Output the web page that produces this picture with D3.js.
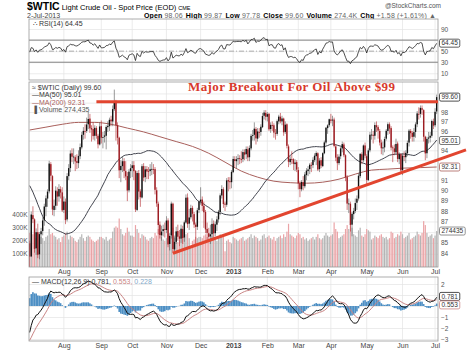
<!doctype html>
<html>
  <head>
    <meta charset="utf-8">
    <script src="https://cdn.jsdelivr.net/npm/d3@7/dist/d3.min.js"></script>
    <style>
      body { margin: 0; background: #fff; }
      text { font-family: "Liberation Sans", Arial, sans-serif; }
    </style>
  </head>
  <body>
    <div id="chart"></div>
    <script>
      // daily candles, one array per month: [open, high, low, close, volume in K]
      var jul12 = [[84.96,85.20,82.57,83.75,260],[83.76,87.95,83.70,87.66,280],[87.60,88.45,86.85,87.22,250],[87.20,87.30,84.10,84.45,270],[84.50,86.35,83.90,85.99,220],[86.00,86.80,83.60,83.91,260],[83.95,86.00,83.50,85.81,240],[85.80,86.40,84.90,86.08,230],[86.10,87.40,85.70,87.10,220],[87.10,88.70,86.60,88.43,200],[88.40,89.50,87.50,89.22,230],[89.20,90.10,88.40,89.87,240],[89.90,92.94,89.70,92.66,290],[92.60,92.80,90.90,91.44,250],[91.40,91.50,87.60,88.14,260],[88.10,89.10,87.50,88.50,240],[88.50,90.40,88.10,89.97,230],[89.90,90.30,88.50,89.39,210],[89.40,90.60,88.90,90.13,220],[90.10,90.40,89.20,89.78,190],[89.80,90.30,87.90,88.06,230]];
      var aug12 = [[88.10,89.40,87.80,88.91,240],[88.90,89.20,86.75,87.13,260],[87.20,91.70,87.00,91.40,270],[91.40,92.60,91.00,92.20,210],[92.20,94.00,91.80,93.67,240],[93.70,94.20,92.80,93.35,230],[93.30,94.20,92.60,93.36,220],[93.30,93.50,91.90,92.87,200],[92.90,93.60,92.10,92.73,190],[92.70,94.00,92.20,93.43,210],[93.40,94.70,93.10,94.33,230],[94.30,95.90,94.10,95.60,250],[95.60,96.40,95.10,96.01,220],[96.00,96.70,95.20,95.97,200],[96.00,97.40,95.80,96.68,230],[96.70,98.00,96.20,97.26,240],[97.30,97.80,95.80,96.27,230],[96.30,96.60,94.90,96.15,210],[96.20,96.90,95.10,95.47,200],[95.50,96.60,95.00,96.33,190],[96.30,96.50,95.20,95.49,200],[95.50,95.70,94.20,94.62,210],[94.60,96.90,94.50,96.47,230]];
      var sep12 = [[96.50,97.10,94.70,95.30,230],[95.30,95.90,94.20,95.36,220],[95.40,96.00,94.80,95.53,210],[95.50,96.60,94.10,96.42,230],[96.40,97.00,95.90,96.54,200],[96.50,97.40,96.00,97.17,210],[97.20,97.60,96.50,97.01,220],[97.00,98.70,96.50,98.31,270],[98.30,100.42,98.10,99.00,300],[99.00,99.30,95.00,96.62,310],[96.60,96.90,94.60,95.29,300],[95.30,95.40,91.20,91.98,370],[92.00,93.00,90.80,92.42,290],[92.40,93.40,91.80,92.89,250],[92.90,93.20,91.20,91.93,240],[91.90,92.90,91.00,91.37,260],[91.40,91.80,88.95,89.98,300],[90.00,92.10,89.80,91.85,270],[91.90,92.60,91.20,92.19,240]];
      var oct12 = [[92.20,92.90,91.30,92.48,240],[92.50,92.90,91.00,91.89,230],[91.90,92.00,87.90,88.14,320],[88.10,91.90,88.00,91.71,290],[91.70,92.00,89.10,89.88,260],[89.90,90.10,88.40,89.33,220],[89.30,92.60,89.20,92.39,250],[92.40,92.70,90.90,91.25,240],[91.30,92.40,90.80,92.07,230],[92.10,92.40,91.10,91.86,210],[91.90,92.30,91.10,91.85,200],[91.90,92.60,91.40,92.09,220],[92.10,92.80,91.50,92.12,230],[92.10,92.60,91.60,92.10,220],[92.10,92.30,89.60,90.05,260],[90.00,90.30,88.40,88.73,240],[88.70,88.90,85.80,86.67,290],[86.70,87.00,85.40,85.73,260],[85.70,86.60,85.20,86.05,230],[86.10,86.70,85.60,86.28,210],[86.30,86.90,85.50,86.24,200]];
      var nov12 = [[86.20,87.50,85.90,87.09,220],[87.10,87.30,84.60,84.86,250],[84.90,85.90,84.30,85.65,230],[85.70,88.90,85.40,88.71,270],[88.70,88.80,84.05,84.44,300],[84.40,85.50,84.20,85.09,240],[85.10,86.50,84.90,86.07,220],[86.10,86.70,85.20,85.57,190],[85.60,86.20,84.70,85.38,210],[85.40,86.70,85.00,86.32,220],[86.30,86.60,84.90,85.45,230],[85.50,87.10,85.10,86.92,240],[86.90,89.60,86.80,89.28,250],[89.30,89.70,86.40,86.75,260],[86.80,88.20,86.20,87.38,220],[87.40,88.60,87.20,88.28,150],[88.30,88.50,87.00,87.74,200],[87.70,87.90,86.40,86.71,210],[86.70,86.90,84.90,86.49,230],[86.50,88.30,86.20,88.07,220],[88.10,89.00,87.80,88.91,230]];
      var dec12 = [[88.90,90.30,88.60,89.09,230],[89.10,89.40,88.00,88.49,220],[88.50,88.90,86.40,87.88,240],[87.90,88.10,85.90,86.26,250],[86.30,86.90,85.20,85.93,230],[85.90,86.40,85.10,85.56,210],[85.60,86.70,84.90,85.80,220],[85.80,87.30,85.40,86.77,240],[86.80,87.10,85.50,85.89,230],[85.90,87.00,85.60,86.73,210],[86.70,87.50,86.10,87.20,200],[87.20,88.10,86.90,87.93,220],[87.90,89.70,87.60,89.51,250],[89.50,90.50,89.20,90.13,230],[90.10,90.30,88.30,88.66,240],[88.70,88.90,88.00,88.61,120],[88.60,91.20,88.40,90.98,200],[91.00,91.30,89.90,90.87,210],[90.90,91.30,90.10,90.80,190],[90.80,92.00,90.20,91.82,180]];
      var jan13 = [[91.80,93.40,91.70,93.12,230],[93.10,93.40,92.30,92.92,220],[92.90,93.40,92.20,93.09,210],[93.10,93.60,92.50,93.19,200],[93.20,93.50,92.60,93.15,210],[93.10,93.90,92.70,93.10,220],[93.10,94.10,92.80,93.82,230],[93.80,94.10,93.00,93.56,200],[93.60,94.40,93.10,94.14,210],[94.10,94.40,92.90,93.28,220],[93.30,94.50,92.90,94.24,230],[94.20,95.70,94.00,95.49,250],[95.50,96.10,95.00,95.56,220],[95.60,96.90,95.00,96.24,240],[96.20,96.40,94.60,95.23,230],[95.20,96.30,94.90,95.95,220],[95.90,96.30,95.30,95.88,200],[95.90,96.70,95.50,96.44,210],[96.40,97.90,96.30,97.57,240],[97.60,98.20,97.20,97.94,250],[97.90,98.20,97.10,97.49,220]];
      var feb13 = [[97.50,98.00,97.00,97.77,230],[97.80,97.90,96.00,96.17,240],[96.20,96.90,95.80,96.64,220],[96.60,97.00,96.00,96.62,210],[96.60,96.80,95.30,95.83,230],[95.80,96.20,95.10,95.72,200],[95.70,97.20,95.50,97.03,220],[97.00,97.70,96.70,97.51,230],[97.50,97.90,96.80,97.01,240],[97.00,97.60,96.60,97.31,220],[97.30,97.40,95.50,95.86,250],[95.90,97.00,95.70,96.66,230],[96.70,96.80,94.20,94.46,270],[94.40,94.60,92.30,92.84,330],[92.80,93.40,92.50,93.13,250],[93.10,93.90,92.60,93.11,240],[93.10,93.20,92.00,92.63,230],[92.60,93.10,91.90,92.76,220],[92.80,93.00,91.80,92.05,240]];
      var mar13 = [[92.00,92.30,90.10,90.68,260],[90.70,90.90,89.33,90.12,250],[90.10,91.00,89.90,90.82,220],[90.80,91.40,90.00,90.43,230],[90.40,91.80,90.20,91.56,210],[91.50,92.20,91.00,91.95,220],[91.90,92.40,91.40,92.06,200],[92.10,92.70,91.60,92.54,210],[92.50,92.80,91.80,92.52,220],[92.50,93.30,92.20,93.03,230],[93.00,93.70,92.80,93.45,210],[93.40,93.90,92.50,93.73,230],[93.70,93.80,91.90,92.06,250],[92.10,93.20,91.80,92.96,220],[93.00,93.30,92.20,92.45,210],[92.40,93.80,92.30,93.71,220],[93.70,95.00,93.60,94.81,240],[94.80,96.40,94.60,96.34,260],[96.30,96.70,95.70,96.58,240],[96.60,97.30,96.40,97.23,230]];
      var apr13 = [[97.20,97.80,96.80,97.07,240],[97.10,97.60,96.50,97.19,250],[97.20,97.40,94.30,94.45,340],[94.40,94.60,92.90,93.26,290],[93.30,93.60,92.00,92.70,270],[92.70,93.60,92.50,93.36,220],[93.40,94.40,93.10,94.20,230],[94.20,94.90,93.80,94.64,240],[94.60,94.80,93.30,93.50,250],[93.50,93.60,90.90,91.29,290],[91.30,91.50,88.10,88.71,320],[88.70,89.20,87.80,88.72,290],[88.70,88.90,86.06,86.68,330],[86.70,87.90,85.61,87.73,300],[87.70,88.30,87.20,88.01,250],[88.00,89.20,87.80,88.76,240],[88.80,89.50,88.10,89.18,230],[89.20,91.70,89.00,91.44,280],[91.40,93.70,91.20,93.64,300],[93.60,93.80,92.60,93.00,240],[93.00,94.60,92.80,94.50,230],[94.50,94.80,93.20,93.46,250]];
      var may13 = [[93.40,93.60,90.60,91.03,290],[91.00,94.20,90.90,93.99,280],[94.00,95.90,93.80,95.61,270],[95.60,96.20,95.10,95.62,210],[95.60,96.00,94.70,95.50,220],[95.50,96.90,95.10,96.62,240],[96.60,97.00,95.90,96.39,230],[96.40,96.60,95.20,96.04,220],[96.00,96.20,94.50,94.80,240],[94.80,95.10,93.60,94.21,250],[94.20,94.90,93.50,94.30,230],[94.30,95.40,93.80,95.16,220],[95.20,96.20,95.00,96.02,230],[96.00,96.90,95.60,96.71,210],[96.70,96.90,95.70,96.25,220],[96.30,96.50,94.00,94.28,270],[94.30,94.50,92.80,94.25,260],[94.20,94.60,93.50,93.84,220],[93.80,95.20,93.60,94.65,230],[94.70,94.90,92.80,93.13,250],[93.10,93.80,92.60,93.61,240],[93.60,93.70,91.70,91.97,270]];
      var jun13 = [[92.00,93.70,91.50,93.45,250],[93.40,93.90,92.90,93.31,220],[93.30,94.00,92.70,93.74,230],[93.70,95.00,93.40,94.76,240],[94.80,96.20,94.40,96.03,260],[96.00,96.20,95.20,95.77,210],[95.80,96.00,94.90,95.38,220],[95.40,96.30,94.90,95.88,230],[95.90,96.90,95.30,96.69,240],[96.70,98.10,96.40,97.85,270],[97.80,98.50,97.20,97.77,250],[97.80,98.70,97.40,98.44,240],[98.40,98.70,97.70,98.24,260],[98.20,98.30,94.90,95.40,350],[95.40,95.50,93.00,93.69,320],[93.70,95.40,93.20,95.18,260],[95.20,95.90,94.70,95.32,230],[95.30,95.90,94.80,95.50,240],[95.50,97.20,95.30,97.05,250],[97.00,97.30,96.20,96.56,220]];
      var jul13 = [[96.60,98.40,96.40,98.02,240],[98.06,99.87,97.78,99.60,274.435]];

      // closes before the window (Apr-Jun 2012), only used to warm up the indicators
      var warmupCloses = [105.23,104.01,101.47,103.31,102.46,101.02,102.70,103.64,102.83,102.93,104.20,102.67,102.27,103.05,103.11,103.55,104.12,104.55,104.93,104.87,
        106.16,105.22,102.54,98.49,97.94,97.01,96.81,97.08,96.13,94.78,93.98,92.81,92.56,91.48,92.57,91.66,89.90,90.66,90.86,90.76,87.82,86.53,
        83.23,83.98,84.29,85.02,84.82,84.10,82.70,83.32,82.62,83.91,84.03,83.27,84.03,81.80,78.20,79.76,79.21,79.36,80.21,77.69,84.96];

      // 200-day average every 10 sessions
      var ma200Pts = [96.1,96.4,96.7,96.9,96.9,96.7,96.3,95.9,95.4,94.9,94.4,93.7,92.8,91.9,91.3,90.9,90.75,90.7,90.8,91.1,91.6,92.0,92.1,92.2,92.25,92.31];

      // month labels and the session index where each month starts
      var monthNames = ["Aug","Sep","Oct","Nov","Dec","2013","Feb","Mar","Apr","May","Jun","Jul"];
      var monthStart = [21,44,63,84,105,125,146,165,185,207,229,249];

      var priceTicks = [84,85,86,87,88,89,90,91,92,93,94,95,96,97,98,99,100];
      var volTicks = [100,200,300,400];
      var rsiTicks = [10,30,50,70,90];
      var macdTicks = [-3,-2,-1,0,1,2];

      // annotations: breakout level and the rising trend line (session index, price)
      var breakout = {from: 41, level: 99.1};
      var trendPts = [[88, 84.05], [268, 94.05]];

      // values shown in legends
      var last = {close: 99.60, ma50: 95.01, ma200: 92.31, vol: 274.435, rsi: 64.45, macd: 0.781, signal: 0.553, hist: 0.228};

      var days = [].concat(jul12, aug12, sep12, oct12, nov12, dec12, jan13, feb13, mar13, apr13, may13, jun13, jul13)
        .map(function(r, i) { return {i: i, o: r[0], h: r[1], l: r[2], c: r[3], v: r[4]}; });
      days.forEach(function(d, i) { d.up = i == 0 ? d.c >= warmupCloses[warmupCloses.length - 1] : d.c >= days[i - 1].c; });

      // indicators
      var all = warmupCloses.concat(days.map(function(d) { return d.c; }));
      var off = warmupCloses.length;
      function ema(arr, n) {
        var k = 2 / (n + 1), out = [], p = arr[0];
        arr.forEach(function(v, i) { p = i == 0 ? v : v * k + p * (1 - k); out.push(p); });
        return out;
      }
      var e12 = ema(all, 12), e26 = ema(all, 26);
      var macdAll = all.map(function(v, i) { return e12[i] - e26[i]; });
      var sigAll = ema(macdAll, 9);
      var rsiAll = [], ag = 0, al = 0;
      for (var j = 1; j < all.length; j++) {
        var ch = all[j] - all[j - 1], g = Math.max(ch, 0), lo = Math.max(-ch, 0);
        if (j <= 14) { ag += g / 14; al += lo / 14; }
        else { ag = (ag * 13 + g) / 14; al = (al * 13 + lo) / 14; }
        rsiAll[j] = 100 - 100 / (1 + ag / al);
      }
      days.forEach(function(d, i) {
        d.ma50 = d3.mean(all.slice(i + off - 49, i + off + 1));
        d.macd = macdAll[i + off];
        d.sig = sigAll[i + off];
        d.rsi = rsiAll[i + off];
      });

      var W = 467, H = 353, L = 29, R = 438;
      var rsiTop = 19, rsiBot = 80, mTop = 82, mBot = 267, dTop = 277, dBot = 341;

      var svg = d3.select("#chart").append("svg").attr("width", W).attr("height", H);

      var x = d3.scaleLinear().domain([-0.4, 250.8]).range([L, R]);
      var y = d3.scaleLog().domain([82.8, 101.25]).range([mBot, mTop]);
      var yVol = d3.scaleLinear().domain([0, 1412]).range([mBot, mTop]);
      var yRsi = d3.scaleLinear().domain([0, 100]).range([78.8, 23.5]);
      var yMacd = d3.scaleLinear().domain([-3, 2]).range([339, 284]);

      function clip(id, top, bot) {
        svg.append("clipPath").attr("id", id).append("rect")
          .attr("x", L).attr("y", top).attr("width", R - L).attr("height", bot - top);
      }
      clip("cr", rsiTop, rsiBot); clip("cm", mTop, mBot); clip("cd", dTop, dBot);

      // grid + right axis; tick labels sitting under a value box are left out
      function panelBase(top, bot, yScale, ticks, boxes) {
        svg.append("rect").attr("x", L).attr("y", top).attr("width", R - L).attr("height", bot - top).attr("fill", "#fff");
        svg.append("g").selectAll("line").data(monthStart).enter().append("line")
          .attr("x1", function(d) { return x(d); }).attr("x2", function(d) { return x(d); })
          .attr("y1", top).attr("y2", bot).attr("stroke", "#e4e4e4").attr("stroke-width", 0.7);
        var ax = svg.append("g").attr("transform", "translate(" + R + ",0)")
          .call(d3.axisRight(yScale).tickValues(ticks).tickSize(-(R - L)).tickPadding(4).tickFormat(d3.format("d")));
        ax.select(".domain").remove();
        ax.selectAll(".tick line").attr("stroke", "#e4e4e4").attr("stroke-width", 0.7);
        ax.selectAll(".tick text").attr("fill", "#555").style("font-size", "6.5px").attr("x", 3)
          .style("display", function(d) {
            var yy = yScale(d);
            return boxes.some(function(b) { return Math.abs(b - yy) < 7; }) ? "none" : null;
          });
        return ax;
      }
      function border(top, bot) {
        svg.append("rect").attr("x", L).attr("y", top).attr("width", R - L).attr("height", bot - top)
          .attr("fill", "none").attr("stroke", "#9a9a9a").attr("stroke-width", 0.8);
      }
      function valueBox(yy, label, color) {
        var g = svg.append("g").attr("transform", "translate(" + (R + 1.5) + "," + yy + ")");
        var t = g.append("text").attr("x", 2).attr("dy", "0.35em").style("font-size", "6.5px").attr("fill", "#333").text(label);
        var w = t.node().getComputedTextLength() + 4;
        g.insert("rect", "text").attr("x", 0).attr("y", -4).attr("width", w).attr("height", 8).attr("rx", 1.5)
          .attr("fill", "#fff").attr("stroke", color).attr("stroke-width", 0.8);
      }

      // header
      var head = svg.append("text").attr("x", 27).attr("y", 9.5);
      head.append("tspan").style("font-weight", "bold").style("font-size", "10.5px").text("$WTIC");
      head.append("tspan").style("font-size", "7.5px").attr("dx", 2).text("Light Crude Oil - Spot Price (EOD)");
      head.append("tspan").style("font-size", "5.5px").attr("dx", 2).text("CME");
      svg.append("text").attr("x", 27).attr("y", 17.5).style("font-size", "7px").attr("fill", "#444").text("2-Jul-2013");
      svg.append("text").attr("x", 441).attr("y", 8).attr("text-anchor", "end").style("font-size", "6.5px").attr("fill", "#555").text("@StockCharts.com");
      var info = svg.append("text").attr("x", 144).attr("y", 17.5).style("font-size", "7px").attr("textLength", 292);
      [["Open", "98.06"], ["High", "99.87"], ["Low", "97.78"], ["Close", "99.60"], ["Volume", "274.4K"], ["Chg", "+1.58 (+1.61%) \u25B2"]].forEach(function(p, k) {
        info.append("tspan").style("font-weight", "bold").attr("dx", k ? 3 : 0).text(p[0]);
        info.append("tspan").attr("fill", "#666").attr("dx", 2).text(p[1]);
      });

      // RSI panel
      panelBase(rsiTop, rsiBot, yRsi, rsiTicks, [yRsi(last.rsi)]);
      [70, 30].forEach(function(v) {
        svg.append("line").attr("x1", L).attr("x2", R).attr("y1", yRsi(v)).attr("y2", yRsi(v)).attr("stroke", "#666").attr("stroke-width", 0.8);
      });
      svg.append("line").attr("x1", L).attr("x2", R).attr("y1", yRsi(50)).attr("y2", yRsi(50))
        .attr("stroke", "#999").attr("stroke-width", 0.8).attr("stroke-dasharray", "5,2,1,2");
      svg.append("path").datum(days).attr("clip-path", "url(#cr)").attr("fill", "none").attr("stroke", "#222").attr("stroke-width", 0.8)
        .attr("d", d3.line().x(function(d) { return x(d.i); }).y(function(d) { return yRsi(d.rsi); }));
      border(rsiTop, rsiBot);
      svg.append("text").attr("x", 33).attr("y", 26).style("font-size", "7px").attr("fill", "#333").text("\u2234 RSI(14) " + last.rsi.toFixed(2));
      valueBox(yRsi(last.rsi), last.rsi.toFixed(2), "#333");

      // price panel
      panelBase(mTop, mBot, y, priceTicks, [y(last.close), y(last.ma50), y(last.ma200), yVol(last.vol)]);
      var gm = svg.append("g").attr("clip-path", "url(#cm)");
      gm.selectAll("rect.vol").data(days).enter().append("rect").attr("class", "vol")
        .attr("x", function(d) { return x(d.i) - 0.6; }).attr("width", 1.2)
        .attr("y", function(d) { return yVol(d.v); }).attr("height", function(d) { return mBot - yVol(d.v); })
        .attr("fill", function(d) { return d.up ? "#b5b5b5" : "#eaa3a6"; });
      gm.append("path").datum(ma200Pts).attr("fill", "none").attr("stroke", "#a9605c").attr("stroke-width", 1)
        .attr("d", d3.line().curve(d3.curveMonotoneX).x(function(d, k) { return x(k * 10); }).y(function(d) { return y(d); }));
      gm.append("path").datum(days).attr("fill", "none").attr("stroke", "#2c2f3a").attr("stroke-width", 0.9)
        .attr("d", d3.line().x(function(d) { return x(d.i); }).y(function(d) { return y(d.ma50); }));
      gm.selectAll("line.wick").data(days).enter().append("line").attr("class", "wick")
        .attr("x1", function(d) { return x(d.i); }).attr("x2", function(d) { return x(d.i); })
        .attr("y1", function(d) { return y(d.h); }).attr("y2", function(d) { return y(d.l); })
        .attr("stroke", function(d) { return d.up ? "#555" : "#b3262b"; }).attr("stroke-width", 0.8).attr("opacity", 0.75);
      gm.selectAll("rect.body").data(days).enter().append("rect").attr("class", "body")
        .attr("x", function(d) { return x(d.i) - 0.7; }).attr("width", 1.4)
        .attr("y", function(d) { return y(Math.max(d.o, d.c)); })
        .attr("height", function(d) { return Math.max(0.8, Math.abs(y(d.o) - y(d.c))); })
        .attr("fill", function(d) { return d.up ? "#111" : "#9c1c22"; });
      border(mTop, mBot);

      var va = svg.append("g").attr("transform", "translate(" + L + ",0)")
        .call(d3.axisLeft(yVol).tickValues(volTicks).tickSize(0).tickPadding(1.5).tickFormat(function(d) { return d + "K"; }));
      va.select(".domain").remove();
      va.selectAll("text").attr("fill", "#555").style("font-size", "6.5px");

      var leg = [["\u2248 $WTIC (Daily) " + last.close.toFixed(2), "#333"], ["\u2014MA(50) " + last.ma50.toFixed(2), "#333"],
                 ["\u2014MA(200) " + last.ma200.toFixed(2), "#a9605c"], ["\u2590 Volume " + d3.format(",")(Math.round(last.vol * 1000)), "#555"]];
      svg.append("g").selectAll("text").data(leg).enter().append("text")
        .attr("x", 32).attr("y", function(d, k) { return 89.5 + k * 7.5; })
        .style("font-size", "7px").attr("fill", function(d) { return d[1]; }).text(function(d) { return d[0]; });

      valueBox(y(last.close), last.close.toFixed(2), "#222");
      valueBox(y(last.ma50), last.ma50.toFixed(2), "#555");
      valueBox(y(last.ma200), last.ma200.toFixed(2), "#a9605c");
      valueBox(yVol(last.vol), String(Math.round(last.vol * 1000)), "#777");

      // annotations
      svg.append("line").attr("x1", x(breakout.from)).attr("x2", R).attr("y1", y(breakout.level)).attr("y2", y(breakout.level))
        .attr("stroke", "#e2452f").attr("stroke-width", 3);
      var tx = trendPts.map(function(p) { return [x(p[0]), y(p[1])]; });
      svg.append("line").attr("x1", tx[0][0]).attr("y1", tx[0][1]).attr("x2", tx[1][0]).attr("y2", tx[1][1])
        .attr("stroke", "#e2452f").attr("stroke-width", 3);
      svg.append("text").attr("x", 188).attr("y", 91).attr("textLength", 207)
        .style("font-family", "'Liberation Serif', serif").style("font-weight", "bold").style("font-size", "13px")
        .attr("fill", "#d8392b").text("Major Breakout For Oil Above $99");

      // month labels
      function months(yy) {
        var g = svg.append("g").attr("transform", "translate(0," + yy + ")")
          .call(d3.axisBottom(x).tickValues(monthStart).tickSize(0).tickPadding(0)
            .tickFormat(function(d, k) { return monthNames[k]; }));
        g.select(".domain").remove();
        g.selectAll("text").attr("fill", "#444").style("font-size", "7px")
          .style("font-weight", function(d, k) { return k == 5 ? "bold" : "normal"; });
      }
      months(mBot + 2);

      // MACD panel
      panelBase(dTop, dBot, yMacd, macdTicks, [yMacd(last.macd), yMacd(last.signal) + 4]);
      var gd = svg.append("g").attr("clip-path", "url(#cd)");
      gd.selectAll("rect").data(days).enter().append("rect")
        .attr("x", function(d) { return x(d.i - 0.5); }).attr("width", x(1) - x(0))
        .attr("y", function(d) { return yMacd(Math.max(0, d.macd - d.sig)); })
        .attr("height", function(d) { return Math.abs(yMacd(d.macd - d.sig) - yMacd(0)); })
        .attr("fill", "#4d8fc4");
      gd.append("path").datum(days).attr("fill", "none").attr("stroke", "#c98383").attr("stroke-width", 1)
        .attr("d", d3.line().x(function(d) { return x(d.i); }).y(function(d) { return yMacd(d.sig); }));
      gd.append("path").datum(days).attr("fill", "none").attr("stroke", "#111").attr("stroke-width", 1)
        .attr("d", d3.line().x(function(d) { return x(d.i); }).y(function(d) { return yMacd(d.macd); }));
      border(dTop, dBot);
      var ml = svg.append("text").attr("x", 32).attr("y", 284).style("font-size", "7px").attr("fill", "#333");
      ml.append("tspan").text("\u2014 MACD(12,26,9) " + last.macd.toFixed(3) + ", ");
      ml.append("tspan").attr("fill", "#c98383").text(last.signal.toFixed(3) + ", ");
      ml.append("tspan").attr("fill", "#7fa7c9").text(last.hist.toFixed(3));
      valueBox(yMacd(last.macd) - 1, last.macd.toFixed(3), "#222");
      valueBox(yMacd(last.signal) + 5, last.signal.toFixed(3), "#c98383");
      months(dBot + 2);
    </script>
  </body>
</html>
